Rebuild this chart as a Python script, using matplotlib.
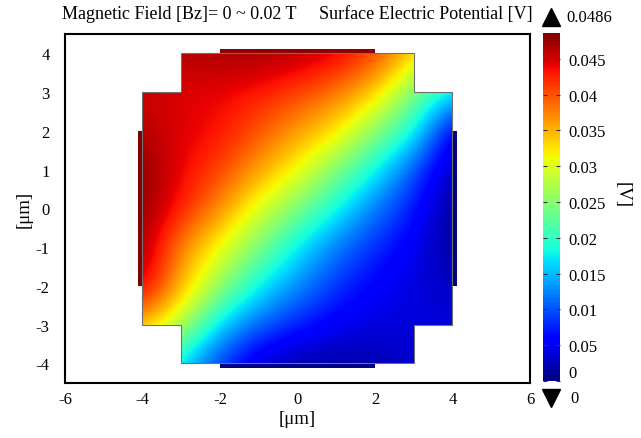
import numpy as np
import matplotlib.pyplot as plt
from matplotlib.path import Path
from matplotlib.patches import PathPatch, Rectangle
from matplotlib.colors import Normalize

plt.rcParams['font.family'] = ['Liberation Serif', 'DejaVu Serif']
plt.rcParams['axes.unicode_minus'] = False

# ----------------------------
# data
# ----------------------------
# surface potential [V] on a 1 um grid, rows y = 4 .. -4, columns x = -4 .. 4
grid_x = [-4, -3, -2, -1, 0, 1, 2, 3, 4]
grid_y = [4, 3, 2, 1, 0, -1, -2, -3, -4]
potential = [
    [0.0480, 0.0460, 0.0470, 0.0470, 0.0465, 0.0450, 0.0410, 0.0345, 0.0260],
    [0.0450, 0.0445, 0.0440, 0.0430, 0.0410, 0.0380, 0.0340, 0.0240, 0.0165],
    [0.0465, 0.0445, 0.0435, 0.0400, 0.0360, 0.0330, 0.0250, 0.0190, 0.0040],
    [0.0480, 0.0440, 0.0410, 0.0360, 0.0315, 0.0245, 0.0180, 0.0100, 0.0020],
    [0.0480, 0.0430, 0.0370, 0.0300, 0.0245, 0.0180, 0.0120, 0.0070, 0.0010],
    [0.0475, 0.0370, 0.0310, 0.0245, 0.0170, 0.0120, 0.0080, 0.0050, 0.0008],
    [0.0460, 0.0350, 0.0260, 0.0175, 0.0130, 0.0085, 0.0055, 0.0040, 0.0030],
    [0.0350, 0.0280, 0.0160, 0.0110, 0.0075, 0.0050, 0.0040, 0.0040, 0.0040],
    [0.0250, 0.0155, 0.0085, 0.0030, 0.0015, 0.0015, 0.0020, 0.0035, 0.0040],
]

# plate outline [um]
plate_x = [-3, 3, 3, 4, 4, 3, 3, -3, -3, -4, -4, -3]
plate_y = [4, 4, 3, 3, -3, -3, -4, -4, -3, -3, 3, 3]

# contacts: left, right, top, bottom
contact_x = [-4.12, 4.0, -2.0, -2.0]
contact_y = [-2.0, -2.0, 4.0, -4.12]
contact_w = [0.12, 0.12, 4.0, 4.0]
contact_h = [4.0, 4.0, 0.12, 0.12]
contact_v = [0.0486, 0.0, 0.0480, 0.0005]

v_min, v_max = 0.0, 0.0486
cbar_ticks = [0, 0.005, 0.01, 0.015, 0.02, 0.025, 0.03, 0.035, 0.04, 0.045]
cbar_labels = ['0', '0.05', '0.01', '0.015', '0.02', '0.025', '0.03', '0.035', '0.04', '0.045']
x_ticks = [-6, -4, -2, 0, 2, 4, 6]
y_ticks = [-4, -3, -2, -1, 0, 1, 2, 3, 4]

# ----------------------------
# figure
# ----------------------------
fig = plt.figure(figsize=(6.41, 4.39), dpi=100)
ax = fig.add_axes([0.1014, 0.1253, 0.7254, 0.795])
cax = fig.add_axes([0.847, 0.1298, 0.0265, 0.7927])

cmap = plt.get_cmap('jet')
norm = Normalize(v_min, v_max)

# clip region = plate outline
verts = list(zip(plate_x, plate_y)) + [(plate_x[0], plate_y[0])]
codes = [Path.MOVETO] + [Path.LINETO] * (len(plate_x) - 1) + [Path.CLOSEPOLY]
plate_path = Path(verts, codes)
clip_patch = PathPatch(plate_path, facecolor='none', edgecolor='none', transform=ax.transData)
ax.add_patch(clip_patch)

dx = (grid_x[1] - grid_x[0]) / 2
im = ax.imshow(np.array(potential), cmap=cmap, norm=norm, interpolation='bicubic',
               extent=[grid_x[0] - dx, grid_x[-1] + dx, grid_y[-1] - dx, grid_y[0] + dx],
               origin='upper', zorder=1)
im.set_clip_path(clip_patch)

for x0, y0, w, h, v in zip(contact_x, contact_y, contact_w, contact_h, contact_v):
    ax.add_patch(Rectangle((x0, y0), w, h, facecolor=cmap(norm(v)),
                           edgecolor='none', zorder=2))

ax.add_patch(PathPatch(plate_path, facecolor='none', edgecolor='#707070', lw=0.8, zorder=3))

ax.set_xlim(-6, 6)
ax.set_ylim(-4.5, 4.5)
ax.set_xticks(x_ticks)
ax.set_yticks(y_ticks)
ax.tick_params(axis='x', length=0, labelsize=12, pad=6)
ax.tick_params(axis='y', length=0, labelsize=12, pad=11)
for s in ax.spines.values():
    s.set_linewidth(1.5)
ax.set_xlabel('[μm]', fontsize=13.5, labelpad=2)
ax.set_ylabel('[μm]', fontsize=13.5, labelpad=2)

fig.text(0.096, 0.966, 'Magnetic Field [Bz]= 0 ~ 0.02 T', fontsize=13, va='center')
fig.text(0.497, 0.966, 'Surface Electric Potential [V]', fontsize=13, va='center')

# colorbar
cb = fig.colorbar(im, cax=cax, ticks=cbar_ticks)
cb.ax.set_yticklabels(cbar_labels)
cb.outline.set_visible(False)
cax.tick_params(direction='in', left=True, right=True, length=3, width=0.8,
                color='#333333', labelsize=12, pad=6)
cax.get_yticklabels()[0].set_va('bottom')
fig.text(0.970, 0.555, '[V]', rotation=270, fontsize=13.5, ha='center', va='center')

cax.plot([0.5], [1.046], marker='^', ms=13, color='k', transform=cax.transAxes, clip_on=False)
cax.plot([0.5], [-0.05], marker='v', ms=13, color='k', transform=cax.transAxes, clip_on=False)
cax.text(1.4, 1.046, '0.0486', transform=cax.transAxes, fontsize=12, va='center')
cax.text(1.6, -0.05, '0', transform=cax.transAxes, fontsize=12, va='center')

fig.savefig('out.png', dpi=100)
